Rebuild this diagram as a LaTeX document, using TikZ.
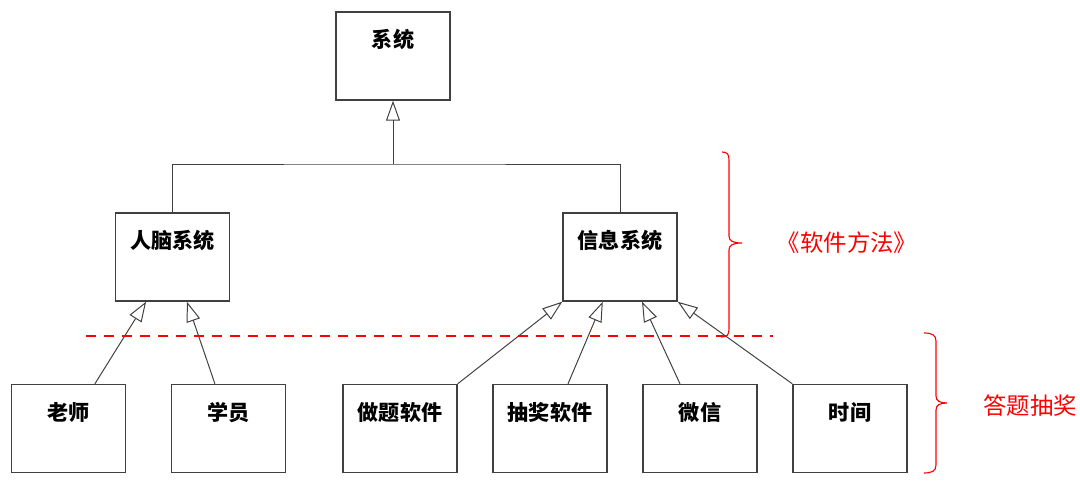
\documentclass[tikz,border=0pt]{standalone}
\usepackage{fontspec}
\setmainfont{Noto Sans CJK SC}
\usetikzlibrary{arrows.meta}

\begin{document}
\begin{tikzpicture}[x=0.025cm, y=-0.025cm,
  box/.style={draw=black!75, line width=1pt, minimum width=2.85cm,
    minimum height=2.2cm, inner sep=0pt, text height=0.9cm, text depth=1.3cm,
    font=\fontsize{15}{18}\selectfont\bfseries},
  link/.style={draw=black!75, line width=0.7pt},
  gen/.style={link, -{Triangle[open, length=0.5cm, width=0.35cm]}},
  brace/.style={red, line width=0.8pt},
  note/.style={red, font=\fontsize{16.6}{19}\selectfont}]
  \useasboundingbox (0,0) rectangle (1080,498);
  % top levels
  \node[box] (xitong) at (393,56) {系统};
  \node[box] (renao) at (172.5,257) {人脑系统};
  \node[box] (xinxi) at (620,257) {信息系统};
  % bottom row
  \node[box] (laoshi) at (68.5,428.5) {老师};
  \node[box] (xueyuan) at (228.5,428.5) {学员};
  \node[box] (zuoti) at (400,428.5) {做题软件};
  \node[box] (choujiang) at (550,428.5) {抽奖软件};
  \node[box] (weixin) at (700,428.5) {微信};
  \node[box] (shijian) at (850,428.5) {时间};
  % generalisation tree
  \coordinate (joint) at (393,164);
  \draw[gen] (joint) -- (xitong.south);
  \draw[link] (renao.north) |- (joint) -| (xinxi.north);
  \draw[gen] ([xshift=0.66cm]laoshi.north) -- ([xshift=-0.66cm]renao.south);
  \draw[gen] ([xshift=-0.34cm]xueyuan.north) -- ([xshift=0.36cm]renao.south);
  \draw[gen] (zuoti.north east) -- (xinxi.south west);
  \draw[gen] ([xshift=0.45cm]choujiang.north) -- ([xshift=-0.43cm]xinxi.south);
  \draw[gen] ([xshift=-0.5cm]weixin.north) -- ([xshift=0.55cm]xinxi.south);
  \draw[gen] (shijian.north west) -- (xinxi.south east);
  % split line and braces
  \draw[red, line width=1.1pt, dash pattern=on 0.25cm off 0.2cm] (86,336) -- (773,336);
  \draw[brace] (722,152) .. controls (727,152) and (729,154) .. (729,160)
    -- (729,236) .. controls (729,241) and (733,243) .. (742,243)
    .. controls (733,243) and (729,245) .. (729,250)
    -- (729,329) .. controls (729,335) and (727,337) .. (721,337);
  \draw[brace] (924,333) .. controls (932,333) and (936,335) .. (936,341)
    -- (936,396) .. controls (936,401) and (940,403) .. (947,403)
    .. controls (940,403) and (936,405) .. (936,410)
    -- (936,465) .. controls (936,471) and (932,473) .. (924,473);
  \node[note] (ruanjian) at (847,243) {《软件方法》};
  \node[note] (dati) at (1030,406) {答题抽奖};
\end{tikzpicture}
\end{document}
